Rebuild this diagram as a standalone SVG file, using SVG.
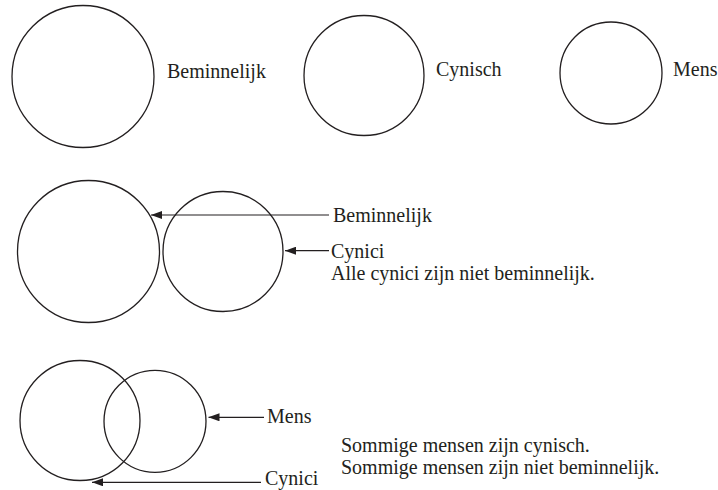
<svg xmlns="http://www.w3.org/2000/svg" width="718" height="490" viewBox="0 0 718 490">
<style>
.c{fill:none;stroke:#231f20;stroke-width:1.3}
.l{stroke:#231f20;stroke-width:1.2;fill:none}
.t{font-size:20px;fill:#231f20}
</style>
<defs>
<marker id="ah" viewBox="0 0 11 8" refX="11" refY="4" markerWidth="11" markerHeight="8" markerUnits="userSpaceOnUse" orient="auto">
<path d="M11,4 L0,0 L0,8 Z" fill="#231f20"/>
</marker>
</defs>
<g font-family="'Liberation Serif', 'DejaVu Serif', serif">
<g id="row1">
<g id="beminnelijk1"><circle class="c" cx="83" cy="76.5" r="71"/><text class="t" x="167" y="78">Beminnelijk</text></g>
<g id="cynisch1"><circle class="c" cx="364" cy="75.5" r="60"/><text class="t" x="436" y="76">Cynisch</text></g>
<g id="mens1"><circle class="c" cx="611" cy="73" r="51"/><text class="t" x="673" y="76">Mens</text></g>
</g>
<g id="row2">
<g id="beminnelijk2"><circle class="c" cx="88.5" cy="251.5" r="71"/><text class="t" x="333" y="221.5">Beminnelijk</text></g>
<g id="cynici2"><circle class="c" cx="223" cy="251.5" r="60"/><text class="t" x="331" y="257.5">Cynici</text></g>
<text class="t" x="331" y="280">Alle cynici zijn niet beminnelijk.</text>
</g>
<g id="row3">
<g id="cynici3"><circle class="c" cx="80" cy="420.5" r="60"/><text class="t" x="265" y="485">Cynici</text></g>
<g id="mens3"><circle class="c" cx="155" cy="421.3" r="51"/><text class="t" x="267" y="423">Mens</text></g>
<text class="t" x="341" y="451.5">Sommige mensen zijn cynisch.</text>
<text class="t" x="341" y="473.5">Sommige mensen zijn niet beminnelijk.</text>
</g>
</g>
<g id="connectors">
<line class="l" x1="329" y1="215" x2="151" y2="215" marker-end="url(#ah)"/>
<line class="l" x1="329" y1="250.7" x2="285" y2="250.7" marker-end="url(#ah)"/>
<line class="l" x1="264" y1="417.3" x2="208.5" y2="417.3" marker-end="url(#ah)"/>
<line class="l" x1="261" y1="482.3" x2="92" y2="482.3" marker-end="url(#ah)"/>
</g>
</svg>
